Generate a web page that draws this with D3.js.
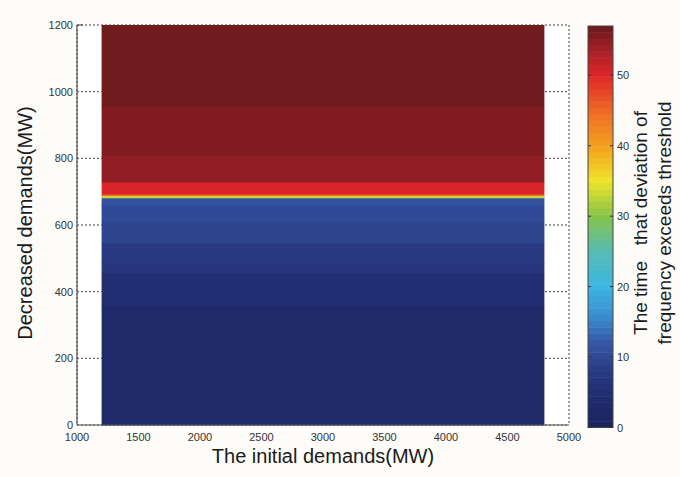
<!DOCTYPE html>
<html>
<head>
<meta charset="utf-8">
<script src="https://cdn.jsdelivr.net/npm/d3@7"></script>
<style>
  body { margin: 0; background: #fdfcf9; }
  text { font-family: "Liberation Sans", Arial, sans-serif; }
</style>
</head>
<body>
<svg id="chart"></svg>
<script>
// Data
const xTicks = [1000, 1500, 2000, 2500, 3000, 3500, 4000, 4500, 5000];
const yTicks = [0, 200, 400, 600, 800, 1000, 1200];
const cbTicks = [0, 10, 20, 30, 40, 50];
// horizontal bands of the map: [low MW, high MW, time value]
const bandLow  = [0,   360, 456, 486, 546, 610, 660, 681, 684, 688, 693, 729, 807, 957];
const bandHigh = [360, 456, 486, 546, 610, 660, 681, 684, 688, 693, 729, 807, 957, 1200];
const bandVal  = [3,   5,   6.5, 8,   9.5, 10.5, 11.5, 28, 35, 45, 50.5, 55, 56, 57];
const mapX = [1200, 4800];   // initial demands covered by the map
const cMax = 57;

// colormap (jet-like, as printed)
const cStops = [0, 4, 8, 12, 16, 20, 25, 30, 35, 40, 45, 50, 54, 57];
const cCols = ['#1b2560', '#1f2b6c', '#293a84', '#3657a6', '#3a8fd0', '#3cb6e2', '#56bcb4',
               '#86c44a', '#eee42a', '#f4a01e', '#ee6a24', '#de262a', '#9e1f27', '#681a1c'];
const nLevels = 64;

const W = 680, H = 477;
const margin = { left: 77, right: 111, top: 25, bottom: 52 };
const width = W - margin.left - margin.right;   // 492
const height = H - margin.top - margin.bottom;  // 400

const svg = d3.select('#chart').attr('width', W).attr('height', H);
const g = svg.append('g').attr('transform', `translate(${margin.left},${margin.top})`);

const x = d3.scaleLinear().domain([1000, 5000]).range([0, width]);
const y = d3.scaleLinear().domain([0, 1200]).range([height, 0]);

const cont = d3.scaleLinear().domain(cStops).range(cCols);
// quantize like a 64-step colormap
function color(v) {
    const lv = Math.min(nLevels - 1, Math.floor(v / cMax * nLevels));
    return cont((lv + 0.5) * cMax / nLevels);
}

// white plot area
g.append('rect').attr('width', width).attr('height', height).attr('fill', '#ffffff');

// dotted grid
g.selectAll('.gy').data(yTicks).enter().append('line')
    .attr('x1', 0).attr('x2', width)
    .attr('y1', d => y(d)).attr('y2', d => y(d))
    .attr('stroke', '#444').attr('stroke-dasharray', '2,2');
g.selectAll('.gx').data(xTicks).enter().append('line')
    .attr('x1', d => x(d)).attr('x2', d => x(d))
    .attr('y1', 0).attr('y2', height)
    .attr('stroke', '#444').attr('stroke-dasharray', '2,2');

// map bands
g.selectAll('.band').data(bandVal).enter().append('rect')
    .attr('x', x(mapX[0]))
    .attr('width', x(mapX[1]) - x(mapX[0]))
    .attr('y', (d, i) => y(bandHigh[i]))
    .attr('height', (d, i) => y(bandLow[i]) - y(bandHigh[i]) + 0.5)
    .attr('fill', d => color(d));

// axes lines (left and bottom solid)
g.append('line').attr('x1', 0).attr('x2', 0).attr('y1', 0).attr('y2', height)
    .attr('stroke', '#555').attr('stroke-width', 1.2);
g.append('line').attr('x1', 0).attr('x2', width).attr('y1', height).attr('y2', height)
    .attr('stroke', '#555').attr('stroke-width', 1.2);
g.append('line').attr('x1', 0).attr('x2', 6).attr('y1', 0).attr('y2', 0)
    .attr('stroke', '#555').attr('stroke-width', 1.2);

// tick labels
g.selectAll('.yl').data(yTicks).enter().append('text')
    .attr('x', -4).attr('y', d => y(d) + 4)
    .attr('text-anchor', 'end').attr('font-size', 11).attr('fill', '#333')
    .text(d => d);
g.selectAll('.xl').data(xTicks).enter().append('text')
    .attr('x', d => x(d)).attr('y', height + 16)
    .attr('text-anchor', 'middle').attr('font-size', 11).attr('fill', '#333')
    .text(d => d);

// axis titles
g.append('text')
    .attr('x', 246).attr('y', height + 38)
    .attr('text-anchor', 'middle').attr('font-size', 20).attr('fill', '#1a1a1a')
    .text('The initial demands(MW)');
g.append('text')
    .attr('transform', `translate(${-45},${198}) rotate(-90)`)
    .attr('text-anchor', 'middle').attr('font-size', 20).attr('fill', '#1a1a1a')
    .text('Decreased demands(MW)');

// colorbar
const cbX = 588, cbW = 25, cbTop = 26, cbBot = 427.5;
const cy = d3.scaleLinear().domain([0, cMax]).range([cbBot, cbTop]);
const levels = d3.range(nLevels);
svg.selectAll('.cb').data(levels).enter().append('rect')
    .attr('x', cbX).attr('width', cbW)
    .attr('y', d => cy((d + 1) * cMax / nLevels))
    .attr('height', d => cy(d * cMax / nLevels) - cy((d + 1) * cMax / nLevels) + 0.5)
    .attr('fill', d => cont((d + 0.5) * cMax / nLevels));
svg.append('rect').attr('x', cbX).attr('y', cbTop).attr('width', cbW).attr('height', cbBot - cbTop)
    .attr('fill', 'none').attr('stroke', '#444').attr('stroke-width', 1);
svg.selectAll('.cbt1').data(cbTicks).enter().append('line')
    .attr('x1', cbX).attr('x2', cbX + 3).attr('y1', d => cy(d)).attr('y2', d => cy(d))
    .attr('stroke', '#333');
svg.selectAll('.cbt2').data(cbTicks).enter().append('line')
    .attr('x1', cbX + cbW - 3).attr('x2', cbX + cbW).attr('y1', d => cy(d)).attr('y2', d => cy(d))
    .attr('stroke', '#333');
svg.selectAll('.cbl').data(cbTicks).enter().append('text')
    .attr('x', cbX + cbW + 4).attr('y', d => cy(d) + 4)
    .attr('font-size', 11).attr('fill', '#333')
    .text(d => d);

// colorbar title (two lines, rotated)
const cbTitle = svg.append('text')
    .attr('transform', `translate(647,223) rotate(-90)`)
    .attr('text-anchor', 'middle').attr('font-size', 19).attr('fill', '#1a1a1a');
cbTitle.append('tspan').attr('x', 0).attr('dy', 0).text('The time\u00a0\u00a0 that deviation of');
cbTitle.append('tspan').attr('x', 0).attr('dy', 24).text('frequency exceeds threshold');
</script>
</body>
</html>
